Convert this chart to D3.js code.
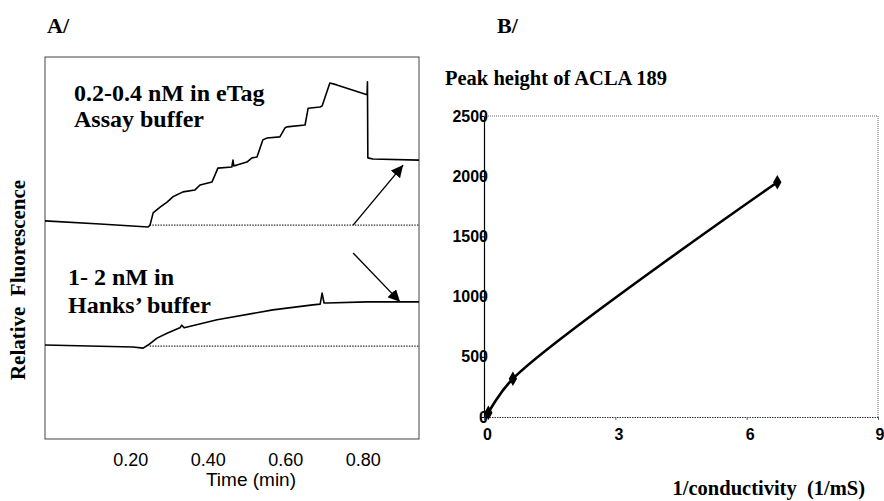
<!DOCTYPE html>
<html>
<head>
<meta charset="utf-8">
<script src="https://cdn.jsdelivr.net/npm/d3@7"></script>
<style>
  body { margin: 0; background: #fff; }
  svg { display: block; }
</style>
</head>
<body>
<script>
// 画布尺寸
const width = 884;
const height = 501;

// 面板 A: 荧光曲线 (时间 min, 相对荧光)
const timeTicks = [0.2, 0.4, 0.6, 0.8];
const eTagTime = [-0.02, 0.122, 0.246, 0.251, 0.259, 0.277, 0.295, 0.310, 0.336, 0.367, 0.380, 0.411, 0.424, 0.426, 0.462, 0.465, 0.467, 0.475, 0.501, 0.514, 0.527, 0.542, 0.553, 0.586, 0.599, 0.604, 0.651, 0.659, 0.690, 0.695, 0.715, 0.733, 0.811, 0.812, 0.813, 0.826, 0.945];
const eTagValue = [57.1, 56.3, 55.5, 56.0, 59.2, 60.7, 62.0, 63.4, 64.7, 65.2, 66.5, 67.3, 70.4, 70.9, 71.2, 73.0, 71.5, 71.7, 72.5, 73.6, 73.8, 78.3, 78.8, 79.1, 81.4, 81.7, 82.2, 86.6, 86.9, 87.2, 93.2, 92.7, 90.1, 93.5, 73.6, 73.3, 73.0];
const hanksTime = [-0.02, 0.207, 0.233, 0.246, 0.269, 0.295, 0.328, 0.333, 0.339, 0.424, 0.568, 0.671, 0.690, 0.695, 0.700, 0.708, 0.811, 0.945];
const hanksValue = [24.6, 24.1, 23.8, 24.6, 26.4, 27.7, 29.1, 29.8, 29.1, 31.2, 33.8, 35.1, 35.3, 38.2, 35.6, 35.6, 35.9, 35.9];
const baselines = [
  { t0: 0.25, t1: 0.945, v: 56.0 },
  { t0: 0.25, t1: 0.945, v: 24.3 }
];
const arrows = [
  { t0: 0.775, v0: 56.0, t1: 0.904, v1: 71.7 },
  { t0: 0.775, v0: 48.7, t1: 0.896, v1: 35.9 }
];

// 面板 B: 峰高 vs 1/电导率
const invConductivity = [0.1, 0.66, 6.7];
const peakHeight = [35, 318, 1950];
const bXTicks = [0, 3, 6, 9];
const bYTicks = [0, 500, 1000, 1500, 2000, 2500];

const svg = d3.select("body").append("svg")
    .attr("width", width)
    .attr("height", height);

// 箭头标记
svg.append("defs").append("marker")
    .attr("id", "arrow")
    .attr("viewBox", "0 0 10 10")
    .attr("refX", 10).attr("refY", 5)
    .attr("markerWidth", 12).attr("markerHeight", 12)
    .attr("markerUnits", "userSpaceOnUse")
    .attr("orient", "auto")
    .append("path")
    .attr("d", "M0,0L10,5L0,10Z")
    .attr("fill", "#000");

const serif = "'Liberation Serif', 'Times New Roman', serif";
const sans = "'Liberation Sans', Arial, sans-serif";

// ---------- 面板 A ----------
const xA = d3.scaleLinear().domain([-0.02, 0.945]).range([45, 419]);
const yA = d3.scaleLinear().domain([0, 100]).range([439, 57]);

const gA = svg.append("g");

gA.append("rect")
    .attr("x", xA.range()[0]).attr("y", yA.range()[1])
    .attr("width", xA.range()[1] - xA.range()[0])
    .attr("height", yA.range()[0] - yA.range()[1])
    .attr("fill", "none")
    .attr("stroke", "#444")
    .attr("stroke-width", 1);

// 虚线基线
gA.selectAll(".base")
    .data(baselines)
    .enter().append("line")
    .attr("x1", d => xA(d.t0)).attr("x2", d => xA(d.t1))
    .attr("y1", d => yA(d.v)).attr("y2", d => yA(d.v))
    .attr("stroke", "#333")
    .attr("stroke-width", 1.2)
    .attr("stroke-dasharray", "1.5,1.2");

const lineA = d3.line()
    .x(d => xA(d[0]))
    .y(d => yA(d[1]));

gA.append("path")
    .datum(d3.zip(eTagTime, eTagValue))
    .attr("d", lineA)
    .attr("fill", "none")
    .attr("stroke", "#000")
    .attr("stroke-width", 1.6)
    .attr("stroke-linejoin", "round");

gA.append("path")
    .datum(d3.zip(hanksTime, hanksValue))
    .attr("d", lineA)
    .attr("fill", "none")
    .attr("stroke", "#000")
    .attr("stroke-width", 1.6)
    .attr("stroke-linejoin", "round");

gA.selectAll(".arrow")
    .data(arrows)
    .enter().append("line")
    .attr("x1", d => xA(d.t0)).attr("y1", d => yA(d.v0))
    .attr("x2", d => xA(d.t1)).attr("y2", d => yA(d.v1))
    .attr("stroke", "#000")
    .attr("stroke-width", 1.4)
    .attr("marker-end", "url(#arrow)");

const axA = gA.append("g")
    .attr("transform", `translate(0,${yA.range()[0]})`)
    .call(d3.axisBottom(xA).tickValues(timeTicks).tickFormat(d3.format(".2f")).tickSize(0).tickPadding(14));
axA.select(".domain").remove();
axA.selectAll("text")
    .attr("font-family", sans)
    .attr("font-size", 18)
    .attr("fill", "#000");

gA.append("text")
    .attr("x", 251).attr("y", 486)
    .attr("text-anchor", "middle")
    .attr("font-family", sans)
    .attr("font-size", 19)
    .text("Time (min)");

gA.append("text")
    .attr("transform", "translate(25,280) rotate(-90)")
    .attr("text-anchor", "middle")
    .attr("font-family", serif)
    .attr("font-weight", "bold")
    .attr("font-size", 21)
    .attr("xml:space", "preserve")
    .text("Relative  Fluorescence");

const labelsA = [
  { x: 74, y: 101, t: "0.2-0.4 nM in eTag" },
  { x: 74, y: 127, t: "Assay buffer" },
  { x: 68, y: 285, t: "1- 2 nM in" },
  { x: 68, y: 313, t: "Hanks\u2019 buffer" }
];
gA.selectAll(".lab")
    .data(labelsA)
    .enter().append("text")
    .attr("x", d => d.x).attr("y", d => d.y)
    .attr("font-family", serif)
    .attr("font-weight", "bold")
    .attr("font-size", 24)
    .text(d => d.t);

svg.append("text")
    .attr("x", 47).attr("y", 33)
    .attr("font-family", serif).attr("font-weight", "bold").attr("font-size", 22)
    .text("A/");
svg.append("text")
    .attr("x", 497).attr("y", 33)
    .attr("font-family", serif).attr("font-weight", "bold").attr("font-size", 22)
    .text("B/");

// ---------- 面板 B ----------
const xB = d3.scaleLinear().domain([0, 9]).range([484, 878]);
const yB = d3.scaleLinear().domain([0, 2500]).range([417, 116]);
const gB = svg.append("g");

// 上边框与右边框 (点线)
gB.append("path")
    .attr("d", `M${xB(0)},${yB(2500)}H${xB(9)}V${yB(0)}`)
    .attr("fill", "none")
    .attr("stroke", "#666")
    .attr("stroke-width", 1)
    .attr("stroke-dasharray", "1,1");

const axBx = gB.append("g")
    .attr("transform", `translate(0,${yB(0)})`)
    .call(d3.axisBottom(xB).tickValues(bXTicks).tickSize(3).tickPadding(9).tickSizeOuter(0));
axBx.select(".domain").attr("stroke", "#333").attr("stroke-dasharray", "1.5,1");
axBx.selectAll("line").attr("stroke", "#666");
axBx.selectAll("text")
    .attr("font-family", sans).attr("font-weight", "bold").attr("font-size", 16)
    .attr("fill", "#000")
    .attr("dx", 3);
// 最右侧的 "9" 贴边对齐, 避免被裁掉
axBx.selectAll(".tick").filter(d => d === 9).select("text")
    .attr("text-anchor", "end")
    .attr("dx", 6);

const axBy = gB.append("g")
    .attr("transform", `translate(${xB(0)},0)`)
    .call(d3.axisLeft(yB).tickValues(bYTicks).tickFormat(d3.format("d")).tickSize(3).tickPadding(-7).tickSizeOuter(0));
axBy.select(".domain").attr("stroke", "#000").attr("stroke-width", 1.2);
axBy.selectAll("text")
    .attr("font-family", sans).attr("font-weight", "bold").attr("font-size", 16)
    .attr("fill", "#000");

const ptsB = d3.zip(invConductivity, peakHeight);
gB.append("path")
    .datum(ptsB)
    .attr("d", d3.line().x(d => xB(d[0])).y(d => yB(d[1])).curve(d3.curveCatmullRom.alpha(0.5)))
    .attr("fill", "none")
    .attr("stroke", "#000")
    .attr("stroke-width", 2.6);

gB.selectAll(".pt")
    .data(ptsB)
    .enter().append("path")
    .attr("transform", d => `translate(${xB(d[0])},${yB(d[1])})`)
    .attr("d", d3.symbol().type(d3.symbolDiamond).size(60))
    .attr("fill", "#000");

gB.append("text")
    .attr("x", 445).attr("y", 85)
    .attr("font-family", serif).attr("font-weight", "bold").attr("font-size", 20.5)
    .text("Peak height of ACLA 189");

gB.append("text")
    .attr("x", 865).attr("y", 495)
    .attr("text-anchor", "end")
    .attr("font-family", serif).attr("font-weight", "bold").attr("font-size", 20.5)
    .attr("xml:space", "preserve")
    .text("1/conductivity  (1/mS)");
</script>
</body>
</html>
